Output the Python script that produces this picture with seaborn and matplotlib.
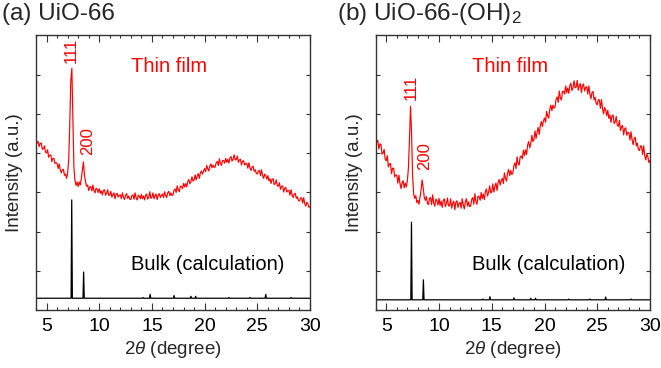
import numpy as np
import pandas as pd
import matplotlib
matplotlib.use("Agg")
import matplotlib.pyplot as plt
from matplotlib.ticker import MultipleLocator
import seaborn as sns

# ---------------- data ----------------
two_theta_start = 4.0
two_theta_step = 0.1

film_a = [
    4.40, 4.26, 4.30, 4.17, 4.26, 4.26, 4.10, 4.12, 4.19, 4.03,
    4.01, 4.09, 3.90, 3.95, 3.96, 3.79, 3.87, 3.87, 3.74, 3.76,
    3.74, 3.61, 3.73, 3.59, 3.50, 3.58, 3.59, 3.44, 3.47, 3.36,
    3.50, 3.82, 4.70, 5.85, 6.17, 4.90, 3.62, 3.30, 3.18, 3.27,
    3.15, 3.27, 3.19, 3.36, 3.58, 3.78, 3.44, 3.28, 3.16, 3.19,
    3.05, 3.14, 3.15, 3.04, 3.19, 3.05, 2.99, 3.11, 3.08, 3.00,
    3.10, 2.98, 3.04, 2.94, 3.05, 3.07, 2.93, 2.98, 3.07, 2.93,
    2.93, 3.03, 2.88, 2.95, 2.99, 2.84, 2.96, 2.98, 2.88, 2.93,
    2.94, 2.84, 2.99, 2.88, 2.82, 2.93, 2.97, 2.85, 2.91, 2.83,
    2.82, 2.92, 2.94, 2.83, 2.99, 2.86, 2.81, 2.93, 2.91, 2.84,
    2.95, 2.84, 2.91, 2.81, 2.93, 2.96, 2.83, 2.88, 3.02, 2.85,
    2.88, 2.99, 2.84, 2.92, 2.96, 2.82, 2.94, 2.97, 2.87, 2.93,
    2.96, 2.87, 3.02, 2.92, 2.87, 2.99, 3.03, 2.92, 2.99, 2.92,
    2.94, 3.06, 3.09, 3.00, 3.17, 3.06, 3.02, 3.16, 3.15, 3.10,
    3.23, 3.14, 3.23, 3.14, 3.28, 3.33, 3.22, 3.28, 3.40, 3.29,
    3.32, 3.45, 3.32, 3.42, 3.48, 3.36, 3.50, 3.55, 3.47, 3.55,
    3.61, 3.53, 3.69, 3.60, 3.55, 3.68, 3.73, 3.63, 3.70, 3.64,
    3.65, 3.76, 3.79, 3.69, 3.86, 3.74, 3.69, 3.82, 3.81, 3.75,
    3.87, 3.77, 3.85, 3.75, 3.88, 3.92, 3.80, 3.85, 3.96, 3.83,
    3.84, 3.93, 3.77, 3.83, 3.85, 3.70, 3.80, 3.81, 3.70, 3.74,
    3.74, 3.62, 3.76, 3.63, 3.56, 3.65, 3.67, 3.54, 3.58, 3.49,
    3.47, 3.55, 3.56, 3.43, 3.58, 3.43, 3.36, 3.47, 3.43, 3.34,
    3.43, 3.30, 3.35, 3.23, 3.34, 3.35, 3.20, 3.23, 3.32, 3.17,
    3.16, 3.25, 3.08, 3.15, 3.17, 3.01, 3.11, 3.13, 3.01, 3.05,
    3.05, 2.93, 3.07, 2.94, 2.87, 2.96, 2.98, 2.85, 2.89, 2.80,
    2.78, 2.86, 2.86, 2.73, 2.87, 2.72, 2.65, 2.75, 2.71, 2.62,
    2.64,
]

film_b = [
    4.52, 4.28, 4.33, 4.11, 4.24, 4.23, 3.98, 4.00, 4.10, 3.85,
    3.81, 3.94, 3.65, 3.73, 3.74, 3.48, 3.62, 3.62, 3.40, 3.45,
    3.44, 3.24, 3.44, 3.23, 3.10, 3.25, 3.30, 3.12, 3.24, 3.14,
    3.30, 3.62, 4.35, 5.20, 4.50, 3.40, 2.96, 2.85, 2.92, 2.74,
    2.80, 2.70, 2.88, 3.06, 3.32, 3.12, 2.88, 2.80, 2.90, 2.72,
    2.69, 2.85, 2.87, 2.69, 2.94, 2.73, 2.65, 2.83, 2.80, 2.68,
    2.85, 2.67, 2.78, 2.62, 2.79, 2.84, 2.64, 2.71, 2.86, 2.66,
    2.66, 2.84, 2.60, 2.72, 2.78, 2.56, 2.75, 2.79, 2.62, 2.72,
    2.75, 2.60, 2.84, 2.68, 2.58, 2.77, 2.84, 2.65, 2.76, 2.64,
    2.65, 2.82, 2.87, 2.70, 2.97, 2.77, 2.70, 2.91, 2.89, 2.80,
    3.00, 2.84, 2.96, 2.82, 3.03, 3.09, 2.91, 3.00, 3.17, 2.99,
    3.02, 3.22, 3.01, 3.16, 3.24, 3.05, 3.26, 3.33, 3.19, 3.31,
    3.36, 3.23, 3.50, 3.36, 3.29, 3.50, 3.59, 3.43, 3.56, 3.46,
    3.49, 3.69, 3.76, 3.61, 3.91, 3.74, 3.70, 3.92, 3.93, 3.86,
    4.08, 3.94, 4.09, 3.97, 4.21, 4.30, 4.14, 4.25, 4.46, 4.30,
    4.35, 4.57, 4.38, 4.55, 4.66, 4.48, 4.71, 4.81, 4.68, 4.83,
    4.90, 4.79, 5.07, 4.95, 4.90, 5.12, 5.23, 5.09, 5.23, 5.15,
    5.19, 5.38, 5.44, 5.30, 5.59, 5.41, 5.36, 5.58, 5.58, 5.51,
    5.72, 5.55, 5.67, 5.53, 5.73, 5.79, 5.60, 5.68, 5.85, 5.67,
    5.69, 5.86, 5.61, 5.73, 5.78, 5.55, 5.73, 5.77, 5.59, 5.68,
    5.70, 5.51, 5.72, 5.52, 5.39, 5.55, 5.58, 5.36, 5.43, 5.27,
    5.24, 5.37, 5.36, 5.15, 5.37, 5.13, 5.01, 5.17, 5.10, 4.96,
    5.10, 4.89, 4.98, 4.79, 4.96, 4.98, 4.76, 4.80, 4.94, 4.71,
    4.69, 4.84, 4.58, 4.68, 4.71, 4.47, 4.63, 4.65, 4.46, 4.53,
    4.53, 4.34, 4.55, 4.35, 4.22, 4.38, 4.41, 4.19, 4.26, 4.10,
    4.07, 4.19, 4.18, 3.97, 4.19, 3.94, 3.83, 3.98, 3.91, 3.76,
    3.82,
]

# calculated bulk pattern: reflection positions and heights
bulk_pos = [7.39, 8.52, 14.15, 14.83, 17.10, 18.70, 19.15, 22.30, 24.30, 25.80, 28.20]
bulk_height_a = [2.51, 0.67, 0.02, 0.10, 0.07, 0.05, 0.05, 0.02, 0.02, 0.10, 0.02]
bulk_height_b = [1.98, 0.51, 0.02, 0.08, 0.05, 0.04, 0.04, 0.02, 0.02, 0.07, 0.02]
bulk_base_a = 0.30
bulk_base_b = 0.26

titles = ["(a) UiO-66", "(b) UiO-66-(OH)$_2$"]
peak_labels = ["111", "200"]

# ---------------- helpers ----------------
def film_frame(vals):
    n = len(vals)
    x = np.round(two_theta_start + two_theta_step * np.arange(n), 2)
    return pd.DataFrame({"tt": x, "I": vals})


def bulk_frame(pos, heights, base):
    xs, ys = [4.0], [base]
    hw = 0.06
    for p, h in zip(pos, heights):
        xs += [p - hw, p, p + hw]
        ys += [base, base + h, base]
    xs.append(30.0)
    ys.append(base)
    return pd.DataFrame({"tt": xs, "I": ys})


# ---------------- figure ----------------
sns.set_theme(style="ticks")
plt.rcParams["font.family"] = ["Liberation Sans", "DejaVu Sans"]
plt.rcParams["mathtext.fontset"] = "custom"
plt.rcParams["mathtext.rm"] = "Liberation Sans"
plt.rcParams["mathtext.it"] = "Liberation Sans:italic"
plt.rcParams["axes.edgecolor"] = "#333333"

fig = plt.figure(figsize=(6.61, 3.68), dpi=100)
W, H = 661, 368
ax_boxes = [(36, 310), (375.7, 650)]
top_px, bot_px = 35, 310

film_data = [film_a, film_b]
bulk_data = [(bulk_height_a, bulk_base_a), (bulk_height_b, bulk_base_b)]
title_x = [2, 337]
lab111 = [(7.30, 6.30), (7.41, 5.36)]
lab200 = [(8.87, 3.95), (8.67, 3.57)]
text_x = [13.0, 13.1]

for i in range(2):
    l, r = ax_boxes[i]
    ax = fig.add_axes([l / W, 1 - bot_px / H, (r - l) / W, (bot_px - top_px) / H])
    sns.lineplot(data=film_frame(film_data[i]), x="tt", y="I", ax=ax,
                 color="#ff0000", lw=0.85, estimator=None, sort=False)
    hts, base = bulk_data[i]
    sns.lineplot(data=bulk_frame(bulk_pos, hts, base), x="tt", y="I", ax=ax,
                 color="black", lw=0.9, estimator=None, sort=False)
    ax.set_xlim(4, 30)
    ax.set_ylim(0, 7.02)
    ax.xaxis.set_major_locator(MultipleLocator(5))
    ax.xaxis.set_minor_locator(MultipleLocator(1))
    ax.set_yticks([1, 2, 3, 4, 5, 6])
    ax.set_yticklabels([])
    ax.tick_params(axis="x", which="major", direction="in", top=True, bottom=True,
                   length=5, width=0.8, labelsize=14, pad=6, colors="#333333",
                   labelcolor="black")
    ax.tick_params(axis="x", which="minor", direction="in", top=True, bottom=True,
                   length=2.5, width=0.8, colors="#333333")
    ax.tick_params(axis="y", which="major", direction="in", left=True, right=True,
                   length=3, width=0.8, colors="#333333")
    for s in ax.spines.values():
        s.set_linewidth(1.0)
        s.set_visible(True)
    ax.set_xlabel(r"2$\it{\theta}$ (degree)", fontsize=13.5, labelpad=3)
    ax.set_ylabel("Intensity (a.u.)", fontsize=13.5, labelpad=6)
    ax.text(lab111[i][0], lab111[i][1], peak_labels[0], rotation=90, color="#ff0000",
            ha="center", va="bottom", fontsize=12)
    ax.text(lab200[i][0], lab200[i][1], peak_labels[1], rotation=90, color="#ff0000",
            ha="center", va="bottom", fontsize=12)
    ax.text(text_x[i], 6.07, "Thin film", color="#ff0000", fontsize=14.5,
            ha="left", va="baseline")
    ax.text(text_x[i], 1.01, "Bulk (calculation)", color="black", fontsize=14.5,
            ha="left", va="baseline")
    fig.text(title_x[i] / W, 1 - 20 / H, titles[i], fontsize=17.5,
             ha="left", va="baseline")

fig.savefig("out.png", dpi=100)
